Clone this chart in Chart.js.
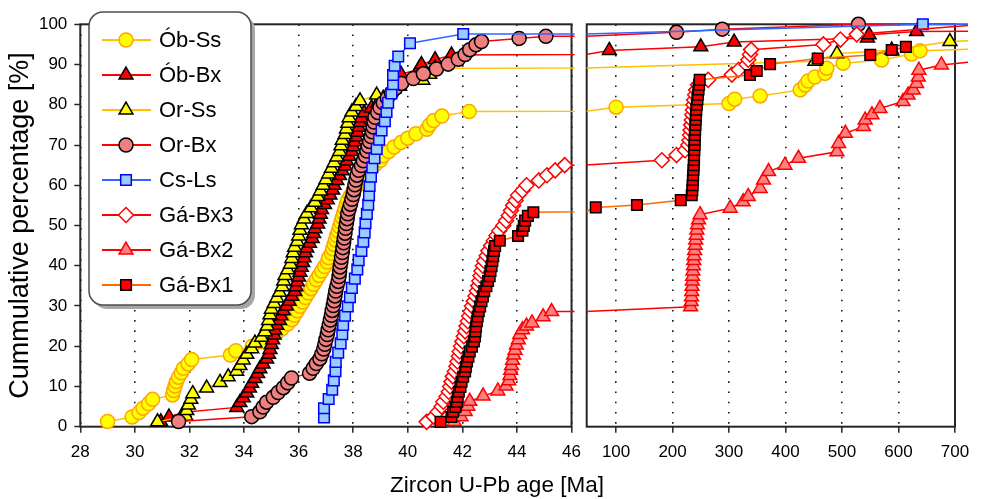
<!doctype html>
<html lang="en">
<head>
<meta charset="utf-8">
<title>Zircon U-Pb age - cumulative percentage</title>
<script src="https://cdn.jsdelivr.net/npm/chart.js"></script>
<style>
  body { margin: 0; background: #fff; }
  #wrap { position: relative; width: 981px; height: 499px; overflow: hidden; }
  #leftChart { position: absolute; left: 0; top: 0; }
  #rightChart { position: absolute; left: 575px; top: 0; }
  #xTitle { position: absolute; left: 0; width: 994px; top: 472px; line-height: 24px; text-align: center;
            font: 22.5px "Liberation Sans", Arial, sans-serif; color: #000; }
</style>
</head>
<body>
<div id="wrap">
  <canvas id="leftChart" width="590" height="499"></canvas>
  <canvas id="rightChart" width="406" height="499"></canvas>
  <div id="xTitle">Zircon U-Pb age [Ma]</div>
</div>
<script>
// axis ticks for the two panels (young ages on the left, old inheritance on the right)
const leftTicks = [28, 30, 32, 34, 36, 38, 40, 42, 44, 46];
const rightTicks = [100, 200, 300, 400, 500, 600, 700];
const yTicks = [0, 10, 20, 30, 40, 50, 60, 70, 80, 90, 100];

// Ób-Ss
const obSsAge = [29.0, 29.9, 30.15, 30.3, 30.5, 30.65, 31.38, 31.42, 31.47, 31.52,
  31.6, 31.7, 31.78, 31.95, 32.08, 33.5, 33.7, 34.3, 34.7, 35.0,
  35.2, 35.4, 35.6, 35.75, 35.85, 35.95, 36.05, 36.15, 36.25, 36.35,
  36.45, 36.55, 36.65, 36.75, 36.85, 36.95, 37.05, 37.1, 37.2, 37.25,
  37.3, 37.35, 37.4, 37.45, 37.5, 37.55, 37.6, 37.65, 37.7, 37.75,
  37.8, 37.9, 38.0, 38.1, 38.2, 38.3, 38.45, 38.6, 38.8, 39.0,
  39.1, 39.3, 39.5, 39.75, 40.0, 40.3, 40.7, 40.8, 40.95, 41.25,
  42.25,
  100, 300, 310, 355, 426, 435, 440, 452, 470, 473, 502, 570, 623, 638, 725];
const obSsPct = [1.3, 2.4, 3.5, 4.6, 5.7, 6.8, 7.9, 9.0, 10.1, 11.2,
  12.3, 13.4, 14.5, 15.6, 16.7, 17.8, 18.9, 20.0, 21.1, 22.2,
  23.3, 24.4, 25.5, 26.6, 27.7, 28.8, 29.9, 31.0, 32.1, 33.2,
  34.3, 35.4, 36.5, 37.6, 38.7, 39.8, 40.9, 42.0, 43.1, 44.2,
  45.3, 46.4, 47.5, 48.6, 49.7, 50.8, 51.9, 53.0, 54.1, 55.2,
  56.3, 57.4, 58.5, 59.6, 60.7, 61.8, 62.9, 64.0, 65.1, 66.2,
  67.3, 68.4, 69.5, 70.6, 71.7, 72.8, 73.9, 75.0, 76.1, 77.2,
  78.3,
  79.4, 80.3, 81.4, 82.2, 83.7, 84.9, 85.9, 86.9, 87.8, 89.1, 90.3, 91.1, 92.6, 93.4, 93.8];

// Ób-Bx
const obBxAge = [30.95, 31.25, 31.8, 33.73, 33.85, 33.97, 34.1, 34.2, 34.28, 34.4,
  34.5, 34.58, 34.7, 34.83, 34.9, 34.95, 35.0, 35.05, 35.1, 35.13,
  35.2, 35.3, 35.35, 35.44, 35.55, 35.65, 35.75, 35.86, 35.9, 35.95,
  36.0, 36.05, 36.1, 36.15, 36.2, 36.25, 36.3, 36.4, 36.5, 36.55,
  36.6, 36.7, 36.75, 36.8, 36.84, 36.95, 37.05, 37.15, 37.25, 37.3,
  37.4, 37.5, 37.6, 37.7, 37.76, 37.85, 37.95, 38.0, 38.05, 38.1,
  38.15, 38.2, 38.25, 38.3, 38.4, 38.67, 38.9, 39.1, 39.3, 39.5,
  39.6, 39.7, 39.75, 40.4, 40.5, 41.0, 41.6,
  88, 250, 309, 545, 548, 632, 725];
const obBxPct = [1.2, 2.4, 3.6, 4.8, 6.0, 7.2, 8.4, 9.6, 10.8, 12.0,
  13.2, 14.4, 15.6, 16.8, 18.0, 19.2, 20.4, 21.6, 22.8, 24.0,
  25.2, 26.4, 27.6, 28.8, 30.0, 31.2, 32.4, 33.6, 34.8, 36.0,
  37.2, 38.4, 39.6, 40.8, 42.0, 43.2, 44.4, 45.6, 46.8, 48.0,
  49.2, 50.4, 51.6, 52.8, 54.0, 55.2, 56.4, 57.6, 58.8, 60.0,
  61.2, 62.4, 63.6, 64.8, 66.0, 67.2, 68.4, 69.6, 70.8, 72.0,
  73.2, 74.4, 75.6, 76.8, 78.0, 79.2, 80.4, 81.6, 82.8, 84.0,
  85.2, 86.4, 87.6, 88.8, 90.0, 91.2, 92.4,
  93.5, 94.4, 95.6, 96.6, 97.4, 98.2, 98.3];

// Or-Ss
const orSsAge = [30.83, 31.87, 31.9, 31.96, 32.05, 32.12, 32.63, 33.12, 33.42, 33.73,
  33.85, 33.97, 34.1, 34.28, 34.4, 34.64, 34.77, 34.85, 34.9, 34.95,
  35.0, 35.1, 35.2, 35.3, 35.4, 35.45, 35.5, 35.6, 35.7, 35.75,
  35.8, 35.85, 35.95, 36.0, 36.05, 36.1, 36.2, 36.3, 36.45, 36.6,
  36.7, 36.8, 36.9, 37.0, 37.1, 37.2, 37.3, 37.4, 37.5, 37.55,
  37.6, 37.7, 37.75, 37.8, 37.85, 37.95, 38.1, 38.25, 38.86, 39.7,
  40.55, 40.8, 41.0,
  452, 491, 588, 691, 725];
const orSsPct = [1.2, 2.6, 4.0, 5.4, 6.8, 8.2, 9.6, 11.0, 12.4, 13.8,
  15.2, 16.6, 18.0, 19.4, 20.8, 22.2, 23.6, 25.0, 26.4, 27.8,
  29.2, 30.6, 32.0, 33.4, 34.8, 36.2, 37.6, 39.0, 40.4, 41.8,
  43.2, 44.6, 46.0, 47.4, 48.8, 50.2, 51.6, 53.0, 54.4, 55.8,
  57.2, 58.6, 60.0, 61.4, 62.8, 64.2, 65.6, 67.0, 68.4, 69.8,
  71.2, 72.6, 74.0, 75.4, 76.8, 78.2, 79.6, 81.0, 82.4, 84.6,
  86.1, 87.6, 89.1,
  90.8, 92.7, 93.6, 95.7, 95.9];

// Or-Bx
const orBxAge = [31.6, 34.28, 34.58, 34.7, 34.83, 35.07, 35.25, 35.44, 35.6, 35.74,
  36.4, 36.53, 36.65, 36.78, 36.85, 36.92, 36.96, 37.0, 37.05, 37.08,
  37.12, 37.16, 37.2, 37.23, 37.27, 37.3, 37.33, 37.36, 37.4, 37.45,
  37.48, 37.5, 37.52, 37.55, 37.57, 37.6, 37.62, 37.65, 37.67, 37.7,
  37.72, 37.75, 37.78, 37.8, 37.85, 37.9, 37.95, 38.0, 38.03, 38.06,
  38.1, 38.14, 38.2, 38.3, 38.37, 38.45, 38.5, 38.55, 38.6, 38.65,
  38.7, 38.73, 38.76, 38.8, 38.9, 38.98, 39.1, 39.25, 39.4, 39.55,
  39.77, 40.2, 40.57, 41.05, 41.48, 41.85, 42.1, 42.27, 42.5, 42.7,
  44.08, 45.06,
  207, 288, 529, 725];
const orBxPct = [1.3, 2.5, 3.7, 4.9, 6.1, 7.3, 8.5, 9.7, 10.9, 12.1,
  13.3, 14.5, 15.7, 16.9, 18.1, 19.3, 20.5, 21.7, 22.9, 24.1,
  25.3, 26.5, 27.7, 28.9, 30.1, 31.3, 32.5, 33.7, 34.9, 36.1,
  37.3, 38.5, 39.7, 40.9, 42.1, 43.3, 44.5, 45.7, 46.9, 48.1,
  49.3, 50.5, 51.7, 52.9, 54.1, 55.3, 56.5, 57.7, 58.9, 60.1,
  61.3, 62.5, 63.7, 64.9, 66.1, 67.3, 68.5, 69.7, 70.9, 72.1,
  73.3, 74.5, 75.7, 76.9, 78.1, 79.3, 80.5, 81.7, 82.9, 84.1,
  85.3, 86.5, 87.7, 88.9, 90.1, 91.3, 92.5, 93.7, 94.9, 95.7,
  96.5, 97.0,
  98.0, 98.8, 100, 100];

// Cs-Ls
const csLsAge = [36.93, 36.93, 37.1, 37.23, 37.29, 37.35, 37.36, 37.45, 37.54, 37.6,
  37.63, 37.7, 37.8, 37.88, 37.95, 38.06, 38.15, 38.2, 38.3, 38.37,
  38.42, 38.45, 38.5, 38.55, 38.58, 38.6, 38.65, 38.7, 38.78, 38.86,
  38.95, 39.04, 39.16, 39.22, 39.28, 39.4, 39.46, 39.46, 39.52, 39.65,
  40.08, 42.03,
  643, 725];
const csLsPct = [2.3, 4.6, 6.9, 9.2, 11.5, 13.8, 16.1, 18.4, 20.7, 23.0,
  25.3, 27.6, 29.9, 32.2, 34.5, 36.8, 39.1, 41.4, 43.7, 46.0,
  48.3, 50.6, 52.9, 55.2, 57.5, 59.8, 62.1, 64.4, 66.7, 69.0,
  71.3, 73.6, 75.9, 78.2, 80.5, 82.8, 85.1, 87.4, 89.7, 92.0,
  95.3, 97.6,
  100, 100];

// Gá-Bx3
const gaBx3Age = [40.69, 40.95, 41.1, 41.24, 41.3, 41.42, 41.5, 41.55, 41.6, 41.65,
  41.72, 41.78, 41.82, 41.87, 41.9, 41.95, 42.0, 42.05, 42.1, 42.15,
  42.2, 42.25, 42.3, 42.35, 42.42, 42.48, 42.53, 42.58, 42.62, 42.66,
  42.7, 42.75, 42.8, 42.89, 42.95, 43.05, 43.15, 43.25, 43.35, 43.5,
  43.6, 43.7, 43.78, 43.86, 43.95, 44.04, 44.2, 44.35, 44.8, 45.1,
  45.4, 45.75,
  181, 207, 222, 228, 230, 231, 232, 233, 234, 235,
  236, 237, 238, 240, 242, 245, 263, 305, 317, 331,
  334, 337, 339, 467, 497, 526, 750];
const gaBx3Pct = [1.2, 2.5, 3.7, 5.0, 6.2, 7.5, 8.7, 10.0, 11.2, 12.5,
  13.7, 15.0, 16.2, 17.5, 18.7, 20.0, 21.2, 22.5, 23.7, 25.0,
  26.2, 27.5, 28.7, 30.0, 31.2, 32.5, 33.7, 35.0, 36.2, 37.5,
  38.7, 40.0, 41.2, 42.5, 43.7, 45.0, 46.2, 47.5, 48.7, 50.0,
  51.2, 52.5, 53.7, 55.0, 56.2, 57.5, 58.7, 60.0, 61.2, 62.5,
  63.7, 65.0,
  66.2, 67.5, 68.7, 70.0, 71.2, 72.5, 73.7, 75.0, 76.2, 77.5,
  78.7, 80.0, 81.2, 82.5, 83.7, 85.0, 86.2, 87.5, 88.7, 90.0,
  91.2, 92.5, 93.7, 95.0, 96.2, 97.5, 100];

// Gá-Bx2
const gaBx2Age = [41.7, 41.95, 42.1, 42.2, 42.27, 42.76, 43.3, 43.6, 43.7, 43.74,
  43.77, 43.8, 43.84, 43.88, 43.93, 43.98, 44.05, 44.1, 44.2, 44.35,
  44.55, 44.96, 45.27,
  232, 233, 233.5, 234, 234.5, 235, 235.5, 236, 237, 237.5,
  238, 239, 240, 241, 242, 243, 244, 246, 248.7,
  302, 325, 334, 355, 361, 370, 399, 423, 491, 494,
  506, 538, 541, 553, 567, 608, 617, 626, 632, 635,
  636, 676, 725];
const gaBx2Pct = [1.3, 2.5, 3.8, 5.1, 6.3, 7.6, 8.9, 10.1, 11.4, 12.7,
  14.0, 15.2, 16.5, 17.8, 19.0, 20.3, 21.6, 22.9, 24.1, 25.0,
  25.8, 27.3, 28.6,
  29.8, 31.1, 32.3, 33.6, 34.9, 36.2, 37.4, 38.7, 40.0, 41.3,
  42.5, 43.8, 45.1, 46.4, 47.6, 48.9, 50.2, 51.4, 52.7,
  54.3, 55.9, 57.2, 59.2, 61.3, 63.4, 65.0, 66.7, 68.3, 70.4,
  72.9, 74.6, 76.2, 77.5, 79.1, 80.8, 82.4, 83.7, 85.3, 86.9,
  88.6, 89.9, 90.6];

// Gá-Bx1
const gaBx1Age = [41.2, 41.6, 41.66, 41.75, 41.8, 41.83, 41.87, 41.93, 41.97, 42.03,
  42.1, 42.13, 42.17, 42.22, 42.27, 42.35, 42.42, 42.46, 42.48, 42.5,
  42.53, 42.56, 42.6, 42.65, 42.7, 42.75, 42.8, 42.88, 42.94, 43.0,
  43.03, 43.07, 43.1, 43.13, 43.16, 43.2, 43.37, 44.04, 44.2, 44.25,
  44.3, 44.4, 44.6,
  64, 137, 214.5, 234, 235, 235.5, 236, 236.5, 237, 237.5,
  238, 238, 238.5, 239, 239, 239.5, 240, 240.5, 241, 241.5,
  242, 243, 244, 245, 246, 247, 248, 337, 349, 372.6,
  457, 550, 588, 613];
const gaBx1Pct = [1.2, 2.4, 3.7, 4.9, 6.2, 7.4, 8.7, 9.9, 11.2, 12.4,
  13.7, 14.9, 16.2, 17.4, 18.7, 19.9, 21.2, 22.4, 23.7, 24.9,
  26.2, 27.4, 28.7, 29.9, 31.2, 32.4, 33.7, 34.9, 36.2, 37.4,
  38.7, 39.9, 41.2, 42.4, 43.7, 44.9, 46.2, 47.4, 48.7, 49.9,
  51.2, 52.4, 53.3,
  54.5, 55.1, 56.3, 57.5, 58.8, 60.0, 61.3, 62.5, 63.8, 65.0,
  66.3, 67.5, 68.8, 70.0, 71.3, 72.5, 73.8, 75.0, 76.3, 77.5,
  78.8, 80.0, 81.3, 82.5, 83.8, 85.0, 86.2, 87.4, 88.4, 90.1,
  91.5, 92.4, 93.6, 94.4];

const FONT = '"Liberation Sans", Arial, sans-serif';
Chart.defaults.font.family = FONT;
Chart.defaults.color = '#000';

// marker and line look of every sample (legend order)
const series = [
  { label: 'Ób-Ss',  age: obSsAge,  pct: obSsPct,  style: 'circle',   r: 7,   fill: '#FFFF00', edge: '#FFA500', line: '#FFC000' },
  { label: 'Ób-Bx',  age: obBxAge,  pct: obBxPct,  style: 'triangle', r: 8,   fill: '#FF0000', edge: '#000000', line: '#FF0000' },
  { label: 'Or-Ss',  age: orSsAge,  pct: orSsPct,  style: 'triangle', r: 8,   fill: '#FFFF00', edge: '#000000', line: '#FFC000' },
  { label: 'Or-Bx',  age: orBxAge,  pct: orBxPct,  style: 'circle',   r: 7,   fill: '#F08080', edge: '#000000', line: '#FF0000' },
  { label: 'Cs-Ls',  age: csLsAge,  pct: csLsPct,  style: 'rect',     r: 7.5, fill: '#99CCFF', edge: '#0000FF', line: '#3366FF' },
  { label: 'Gá-Bx3', age: gaBx3Age, pct: gaBx3Pct, style: 'rectRot',  r: 7.5, fill: '#FFFFFF', edge: '#FF0000', line: '#FF0000' },
  { label: 'Gá-Bx2', age: gaBx2Age, pct: gaBx2Pct, style: 'triangle', r: 8,   fill: '#FF8080', edge: '#FF0000', line: '#FF0000' },
  { label: 'Gá-Bx1', age: gaBx1Age, pct: gaBx1Pct, style: 'rect',     r: 7.5, fill: '#FF0000', edge: '#000000', line: '#FF6A00' }
];

function panelDatasets(min, max, clip) {
  return series.map((s, i) => {
    const n = Math.min(s.age.length, s.pct.length);
    const pts = [];
    for (let k = 0; k < n; k++) pts.push({ x: s.age[k], y: s.pct[k] });
    return {
      label: s.label,
      data: pts,
      borderColor: s.line,
      borderWidth: 1.5,
      tension: 0,
      pointStyle: s.style,
      pointBackgroundColor: s.fill,
      pointBorderColor: s.edge,
      pointBorderWidth: 1.5,
      // only mark the samples that fall inside this panel
      pointRadius: ctx => (ctx.raw && ctx.raw.x >= min && ctx.raw.x <= max) ? s.r : 0,
      pointHoverRadius: 0,
      order: -i,
      clip: clip
    };
  });
}

// dark frame round each panel, under the markers
const frame = {
  id: 'frame',
  beforeDatasetsDraw(chart) {
    const { ctx, chartArea: a } = chart;
    ctx.save();
    ctx.strokeStyle = '#262626';
    ctx.lineWidth = 2;
    ctx.strokeRect(a.left, a.top, a.right - a.left, a.bottom - a.top);
    ctx.restore();
  }
};

// rounded legend box with a drop shadow
const legendBox = {
  id: 'legendBox',
  afterDraw(chart) {
    const ctx = chart.ctx;
    const x = 89, y = 12, w = 162, h = 293, r = 14;
    ctx.save();
    ctx.fillStyle = '#a6a6a6';
    ctx.beginPath(); ctx.roundRect(x + 4, y + 4, w, h, r); ctx.fill();
    ctx.fillStyle = '#ffffff';
    ctx.strokeStyle = '#4d4d4d';
    ctx.lineWidth = 1.5;
    ctx.beginPath(); ctx.roundRect(x, y, w, h, r); ctx.fill(); ctx.stroke();
    series.forEach((s, i) => {
      const cy = 40 + i * 35;
      ctx.strokeStyle = s.line;
      ctx.lineWidth = 2;
      ctx.beginPath(); ctx.moveTo(102, cy); ctx.lineTo(151, cy); ctx.stroke();
      ctx.fillStyle = s.fill;
      ctx.strokeStyle = s.edge;
      ctx.lineWidth = 1.5;
      Chart.helpers.drawPoint(ctx, { pointStyle: s.style, radius: s.r, borderWidth: 1.5, rotation: 0 }, 126, cy);
      ctx.fillStyle = '#000';
      ctx.font = '22px ' + FONT;
      ctx.textBaseline = 'middle';
      ctx.fillText(s.label, 159, cy + 1);
    });
    ctx.restore();
  }
};

function xScale(min, max, ticks) {
  return {
    type: 'linear', min: min, max: max,
    afterBuildTicks: sc => { sc.ticks = ticks.map(v => ({ value: v })); },
    afterFit: sc => { sc.height = 72.3; },
    grid: { color: '#1a1a1a', lineWidth: 1.6, tickLength: 6, tickColor: '#262626', tickWidth: 1.5 },
    border: { display: false, dash: [1.6, 8.6] },
    ticks: { font: { size: 17 }, color: '#000', padding: 9, maxRotation: 0, autoSkip: false }
  };
}

new Chart(document.getElementById('leftChart'), {
  type: 'line',
  data: { datasets: panelDatasets(28, 46, { left: 0, right: 3, top: 10, bottom: 10 }) },
  options: {
    responsive: false,
    animation: false,
    layout: { padding: { left: 0, right: 18.3, top: 24.3, bottom: 0 } },
    plugins: { legend: { display: false }, tooltip: { enabled: false } },
    scales: {
      x: xScale(28, 46, leftTicks),
      y: {
        min: 0, max: 100,
        afterBuildTicks: sc => { sc.ticks = yTicks.map(v => ({ value: v })); },
        afterFit: sc => { sc.width = 80.3; },
        grid: { drawOnChartArea: false, tickLength: 6, tickColor: '#262626', tickWidth: 1.5 },
        border: { display: false },
        ticks: { font: { size: 17 }, color: '#000', padding: 7 },
        title: { display: true, text: 'Cummulative percentage [%]', color: '#000',
                 font: { size: 27 }, padding: { top: 4, bottom: 0 } }
      }
    }
  },
  plugins: [frame, legendBox]
});

new Chart(document.getElementById('rightChart'), {
  type: 'line',
  data: { datasets: panelDatasets(48, 700, { left: 0, right: 13, top: 10, bottom: 10 }) },
  options: {
    responsive: false,
    animation: false,
    layout: { padding: { left: 11.7, right: 26, top: 24.3, bottom: 0 } },
    plugins: { legend: { display: false }, tooltip: { enabled: false } },
    scales: {
      x: xScale(48, 700, rightTicks),
      y: { display: false, min: 0, max: 100 }
    }
  },
  plugins: [frame]
});
</script>
</body>
</html>
